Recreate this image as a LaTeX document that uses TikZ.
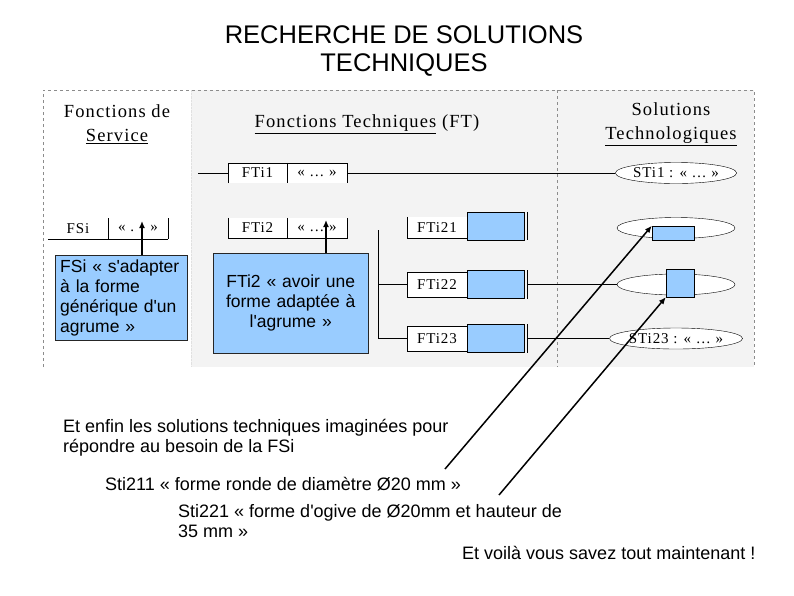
\documentclass[tikz,border=0pt]{standalone}
\usepackage{fontspec}
\setmainfont{Liberation Sans}[Ligatures=TeXOff]
\newfontfamily\scanfont[LetterSpace=6]{Liberation Serif}
\usetikzlibrary{shapes.geometric,arrows.meta}
\definecolor{panelgrey}{HTML}{F3F3F3}
\definecolor{noteblue}{HTML}{99CCFF}

\begin{document}
\begin{tikzpicture}[x=1pt, y=-1pt,
    head/.style={font=\scanfont\fontsize{18.5}{24}\selectfont, align=center},
    cell/.style={fill=white, minimum width=60pt, minimum height=20pt, inner sep=0pt,
                 font=\scanfont\fontsize{15}{17}\selectfont},
    blank/.style={draw, fill=noteblue, inner sep=0pt},
    sol/.style={ellipse, draw, fill=white, minimum width=118pt, minimum height=21pt,
                inner sep=0pt, font=\scanfont\fontsize{15}{17}\selectfont},
    note/.style={draw=black!85, fill=noteblue, inner sep=2pt,
                 font=\fontsize{17.5}{20}\selectfont},
    says/.style={anchor=base west, inner sep=0pt, align=left,
                 font=\fontsize{18}{19.5}\selectfont},
    arr/.style={-{Latex[length=7pt,width=6pt]}, line width=1.7pt}]
    \useasboundingbox (0,0) rectangle (794,595);
    \fill[white] (0,0) rectangle (794,595);

    % title
    \node[font=\fontsize{25.5}{28}\selectfont, align=center] (title) at (404,51)
        {RECHERCHE DE SOLUTIONS\\TECHNIQUES};

    % scanned table: panels
    \fill[panelgrey] (191,90) rectangle (754,367);
    \draw[black!45, dashed] (43,367) -- (43,90) -- (754,90) -- (754,367);
    \draw[black!45, dashed] (557,90) -- (557,367);
    \draw[black!12, densely dotted] (191,90) -- (191,367);

    \node[head] (fs) at (117,124) {Fonctions de\\\underline{Service}};
    \node[head] (ft) at (367,124) {\underline{Fonctions Techniques} (FT)};
    \node[head] (st) at (671,124) {Solutions\\\underline{Technologiques}};

    % service function
    \node[cell, fill=none] (fsi) at (78,228.5) {FSi};
    \node[cell, fill=none] (fsiq) at (138,228.5) {« . . »};
    \draw (fsi.south west) -- (fsiq.south east);
    \draw (fsi.north east) -- (fsi.south east);
    \draw (fsiq.north east) -- (fsiq.south east);

    % technical functions
    \node[cell, minimum width=59pt] (fti1) at (257.5,173) {FTi1};
    \node[cell] (fti1q) at (317,173) {« … »};
    \draw (fti1.south west) -- (fti1.north west) -- (fti1q.north east) -- (fti1q.south east);
    \draw (fti1.north east) -- (fti1.south east);

    \node[cell, minimum width=59pt] (fti2) at (257.5,228) {FTi2};
    \node[cell] (fti2q) at (317,228) {« … »};
    \draw (fti2.north west) -- (fti2.south west) -- (fti2q.south east) -- (fti2q.north east);
    \draw (fti2.north east) -- (fti2.south east);

    \node[cell, minimum height=21pt] (fti21) at (437,227.5) {FTi21};
    \draw (fti21.north west) -- (fti21.south west) -- (fti21.south east);
    \node[cell, draw, minimum height=25pt] (fti22) at (437,284.5) {FTi22};
    \node[cell, draw, minimum height=25pt] (fti23) at (437,338.5) {FTi23};

    \node[blank, minimum width=57pt, minimum height=28pt] (fti21b) at (495.5,226) {};
    \node[blank, minimum width=57pt, minimum height=28pt] (fti22b) at (495.5,284.5) {};
    \node[blank, minimum width=57pt, minimum height=28pt] (fti23b) at (495.5,338.5) {};
    \foreach \b in {fti21b,fti22b,fti23b}
        \draw ([xshift=3pt]\b.north east) -- ([xshift=3pt]\b.south east);

    % technological solutions
    \node[sol] (sti1) at (676,173) {STi1 : « … »};
    \node[sol] (sti21) at (676,228) {};
    \node[sol] (sti22) at (676,284.5) {};
    \node[sol] (sti23) at (676,338.5) {STi23 : « … »};
    \node[blank, minimum width=42pt, minimum height=14pt] (sti21b) at (673,233) {};
    \node[blank, minimum width=28pt, minimum height=28pt] (sti22b) at (680,283) {};

    % links
    \coordinate (ftin) at (198,173);
    \draw (ftin) -- (fti1.west);
    \draw (fti1q.east) -- (sti1.west);
    \coordinate (bustop) at (378,230);
    \coordinate (busmid) at (378,284.5);
    \coordinate (busbot) at (378,338.5);
    \draw (bustop) -- (busbot) -- (fti23.west);
    \draw (busmid) -- (fti22.west);
    \draw ([xshift=3pt]fti22b.east) -- (sti22.west);
    \draw ([xshift=3pt]fti23b.east) -- (sti23.west);

    % blue notes
    \node[note, anchor=north west, text width=122pt, inner xsep=5pt, align=left, minimum height=85pt] (fsinote)
        at (55,255) {FSi « s'adapter\\à la forme\\générique d'un\\agrume »};
    \node[note, anchor=north west, text width=151pt, align=center, minimum height=100pt] (ftinote)
        at (213,253) {FTi2 « avoir une\\forme adaptée à\\l'agrume »};
    \coordinate (fsitip) at (142,221);
    \coordinate (ftitip) at (326,220);
    \draw[arr] (fsinote.north -| fsitip) -- (fsitip);
    \draw[arr] (ftinote.north -| ftitip) -- (ftitip);

    % comments below
    \node[says] (enfin) at (63,452) {Et enfin les solutions techniques imaginées pour\\répondre au besoin de la FSi};
    \node[says] (sti211) at (105,490) {Sti211 « forme ronde de diamètre Ø20 mm »};
    \node[says] (sti221) at (178,537) {Sti221 « forme d'ogive de Ø20mm et hauteur de\\35 mm »};
    \node[says] (voila) at (462,559) {Et voilà vous savez tout maintenant !};
    \coordinate (tail1) at (445,469);
    \coordinate (tail2) at (499,495);
    \draw[arr, line width=1.5pt] (tail1) -- (sti21b.north west);
    \draw[arr, line width=1.5pt] (tail2) -- (sti22b.south west);
\end{tikzpicture}
\end{document}
